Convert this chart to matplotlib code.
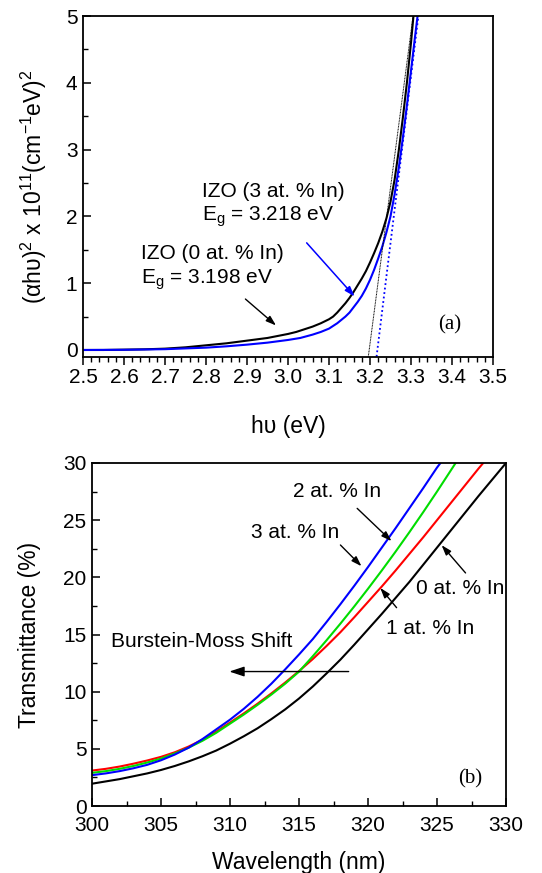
import matplotlib
matplotlib.use("Agg")
import matplotlib.pyplot as plt
from matplotlib.ticker import MultipleLocator

plt.rcParams['font.family'] = ['Liberation Sans', 'DejaVu Sans']
plt.rcParams['mathtext.fontset'] = 'custom'
plt.rcParams['mathtext.rm'] = 'Liberation Sans'
plt.rcParams['mathtext.it'] = 'Liberation Sans:italic'

# ---------------- Panel (a) data ----------------
hv_0 = [2.50, 2.55, 2.60, 2.65, 2.70, 2.75, 2.80, 2.85, 2.90, 2.95, 3.00, 3.02, 3.04, 3.06,
        3.08, 3.10, 3.11, 3.12, 3.13, 3.14, 3.15, 3.16, 3.17, 3.18, 3.19, 3.20, 3.21, 3.22,
        3.23, 3.24, 3.25, 3.26, 3.27, 3.28, 3.29, 3.30, 3.306]
ahv_0 = [0.0, 0.0, 0.005, 0.01, 0.02, 0.04, 0.07, 0.10, 0.14, 0.18, 0.24, 0.27, 0.31, 0.35,
         0.40, 0.46, 0.50, 0.56, 0.63, 0.70, 0.78, 0.87, 0.97, 1.07, 1.18, 1.31, 1.45, 1.60,
         1.77, 1.97, 2.22, 2.55, 2.98, 3.47, 4.00, 4.60, 5.00]
hv_3 = [2.50, 2.60, 2.70, 2.80, 2.85, 2.90, 2.95, 3.00, 3.03, 3.06, 3.08, 3.10, 3.11, 3.12,
        3.13, 3.14, 3.15, 3.16, 3.17, 3.18, 3.19, 3.20, 3.21, 3.22, 3.23, 3.24, 3.25, 3.26,
        3.27, 3.28, 3.29, 3.30, 3.31, 3.316]
ahv_3 = [0.0, 0.003, 0.012, 0.035, 0.055, 0.08, 0.11, 0.15, 0.18, 0.23, 0.27, 0.32, 0.36, 0.40,
         0.45, 0.50, 0.56, 0.64, 0.72, 0.81, 0.92, 1.05, 1.20, 1.37, 1.55, 1.76, 2.00, 2.33,
         2.72, 3.17, 3.66, 4.18, 4.70, 5.00]
eg_0 = 3.198
eg_3 = 3.218
fit_top_0 = 3.305   # hv where the linear fit reaches the top of the axis
fit_top_3 = 3.318

# ---------------- Panel (b) data ----------------
wl_0 = [300, 301, 302, 303, 304, 305, 306, 307, 308, 309, 310, 311, 312, 313, 314, 315,
        316, 317, 318, 319, 320, 321, 322, 323, 324, 325, 326, 327, 328, 329, 330]
T_0 = [1.95, 2.15, 2.35, 2.6, 2.85, 3.15, 3.5, 3.9, 4.35, 4.85, 5.45, 6.1, 6.8, 7.6, 8.45, 9.4,
       10.45, 11.6, 12.8, 14.1, 15.45, 16.8, 18.2, 19.6, 21.1, 22.6, 24.1, 25.6, 27.1, 28.55, 30.0]
wl_1 = [300, 301, 302, 303, 304, 305, 306, 307, 308, 309, 310, 311, 312, 313, 314, 315,
        316, 317, 318, 319, 320, 321, 322, 323, 324, 325, 326, 327, 328, 328.35]
T_1 = [3.1, 3.25, 3.45, 3.7, 3.98, 4.3, 4.7, 5.2, 5.8, 6.5, 7.3, 8.1, 8.95, 9.85, 10.8, 11.8,
       12.85, 14.0, 15.2, 16.5, 17.85, 19.2, 20.6, 22.05, 23.5, 25.0, 26.5, 28.0, 29.5, 30.0]
wl_2 = [300, 301, 302, 303, 304, 305, 306, 307, 308, 309, 310, 311, 312, 313, 314, 315,
        316, 317, 318, 319, 320, 321, 322, 323, 324, 325, 326, 326.35]
T_2 = [2.9, 3.05, 3.25, 3.5, 3.8, 4.15, 4.6, 5.1, 5.7, 6.4, 7.2, 8.0, 8.85, 9.75, 10.7, 11.75,
       13.1, 14.5, 15.95, 17.45, 19.0, 20.6, 22.25, 23.95, 25.7, 27.5, 29.35, 30.0]
wl_3 = [300, 301, 302, 303, 304, 305, 306, 307, 308, 309, 310, 311, 312, 313, 314, 315,
        316, 317, 318, 319, 320, 321, 322, 323, 324, 325, 325.25]
T_3 = [2.7, 2.85, 3.05, 3.3, 3.6, 4.0, 4.5, 5.1, 5.85, 6.7, 7.55, 8.5, 9.55, 10.7, 11.95, 13.25,
       14.6, 16.1, 17.65, 19.25, 20.9, 22.6, 24.3, 26.05, 27.8, 29.6, 30.0]

xticks_a = [2.5, 2.6, 2.7, 2.8, 2.9, 3.0, 3.1, 3.2, 3.3, 3.4, 3.5]
xticklabels_a = ['2.5', '2.6', '2.7', '2.8', '2.9', '3.0', '3.1', '3.2', '3.3', '3.4', '3.5']
yticks_a = [0, 1, 2, 3, 4, 5]
xticks_b = [300, 305, 310, 315, 320, 325, 330]
yticks_b = [0, 5, 10, 15, 20, 25, 30]

fig = plt.figure(figsize=(5.42, 8.73), dpi=100)
W, H = 542, 873

def add_ax(l, r, t, b):
    return fig.add_axes([l / W, (H - b) / H, (r - l) / W, (b - t) / H])

tick_fs = 15
lab_fs = 16.5
txt_fs = 15

# ---------------- Panel (a) ----------------
ax = add_ax(83, 493, 16, 357)
ax.plot(hv_0, ahv_0, color='black', lw=1.5)
ax.plot(hv_3, ahv_3, color='#0000ff', lw=1.5)
ax.plot([eg_0 - 0.1 * (fit_top_0 - eg_0) / 5.0, fit_top_0], [-0.1, 5.0], color='black', lw=0.7, ls=(0, (1, 0.6)))
ax.plot([eg_3 - 0.1 * (fit_top_3 - eg_3) / 5.0, fit_top_3], [-0.1, 5.0], color='#0000ff', lw=1.3, ls=(0, (1, 1.5)))
ax.set_xlim(2.5, 3.5)
ax.set_ylim(-0.105, 5)
ax.set_xticks(xticks_a)
ax.set_xticklabels(xticklabels_a)
ax.set_yticks(yticks_a)
ax.xaxis.set_minor_locator(MultipleLocator(0.02))
ax.yaxis.set_minor_locator(MultipleLocator(0.5))
ax.tick_params(axis='x', which='both', direction='out', top=False, labelsize=tick_fs, pad=2)
ax.tick_params(axis='x', which='major', length=6, width=1.1)
ax.tick_params(axis='x', which='minor', length=3.5, width=1.0)
ax.tick_params(axis='y', which='both', direction='in', right=False, labelsize=tick_fs, pad=4)
ax.tick_params(axis='y', which='major', length=6, width=1.1)
ax.tick_params(axis='y', which='minor', length=3.5, width=1.0)
for s in ax.spines.values():
    s.set_linewidth(1.3)
ax.set_xlabel('hυ (eV)', fontsize=lab_fs, labelpad=20)
ax.set_ylabel('(αhυ)$^2$ x 10$^{11}$(cm$^{-1}$eV)$^2$', fontsize=lab_fs, labelpad=12)

ax.text(2.79, 2.38, 'IZO (3 at. % In)', fontsize=txt_fs, va='center', ha='left')
ax.text(2.79, 1.99, 'E$_\\mathrm{g}$ = 3.218 eV', fontsize=txt_fs, va='center', ha='left')
ax.text(2.642, 1.44, 'IZO (0 at. % In)', fontsize=txt_fs, va='center', ha='left')
ax.text(2.642, 1.05, 'E$_\\mathrm{g}$ = 3.198 eV', fontsize=txt_fs, va='center', ha='left')
ax.annotate('', xy=(3.167, 0.77), xytext=(3.041, 1.635),
            arrowprops=dict(arrowstyle='-|>,head_length=0.6,head_width=0.2', color='#0000ff', lw=1.1))
ax.annotate('', xy=(2.976, 0.34), xytext=(2.891, 0.79),
            arrowprops=dict(arrowstyle='-|>,head_length=0.6,head_width=0.2', color='black', lw=1.0))
ax.text(3.366, 0.37, '(a)', fontsize=15, family='Liberation Serif', va='center', ha='left')

# ---------------- Panel (b) ----------------
bx = add_ax(92, 506, 463, 806)
bx.plot(wl_0, T_0, color='black', lw=1.5)
bx.plot(wl_1, T_1, color='#ff0000', lw=1.5)
bx.plot(wl_2, T_2, color='#00dd00', lw=1.5)
bx.plot(wl_3, T_3, color='#0000ff', lw=1.5)
bx.set_xlim(300, 330)
bx.set_ylim(0, 30)
bx.set_xticks(xticks_b)
bx.set_yticks(yticks_b)
bx.xaxis.set_minor_locator(MultipleLocator(2.5))
bx.yaxis.set_minor_locator(MultipleLocator(2.5))
bx.tick_params(axis='both', which='both', direction='in', top=False, right=False, labelsize=tick_fs)
bx.tick_params(axis='both', which='major', length=6, width=1.1)
bx.tick_params(axis='both', which='minor', length=3.5, width=1.0)
bx.tick_params(axis='x', pad=7)
bx.tick_params(axis='y', pad=4)
for s in bx.spines.values():
    s.set_linewidth(1.3)
bx.set_xlabel('Wavelength (nm)', fontsize=lab_fs, labelpad=12)
bx.set_ylabel('Transmittance (%)', fontsize=lab_fs, labelpad=16)

ap = dict(arrowstyle='-|>,head_length=0.6,head_width=0.2', color='black', lw=1.0)
bx.text(314.6, 27.5, '2 at. % In', fontsize=txt_fs, va='center', ha='left')
bx.annotate('', xy=(321.85, 23.0), xytext=(319.07, 26.2), arrowprops=ap)
bx.text(311.5, 23.9, '3 at. % In', fontsize=txt_fs, va='center', ha='left')
bx.annotate('', xy=(319.67, 20.8), xytext=(317.86, 23.0), arrowprops=ap)
bx.text(323.5, 19.05, '0 at. % In', fontsize=txt_fs, va='center', ha='left')
bx.annotate('', xy=(325.2, 23.0), xytext=(327.2, 20.2), arrowprops=ap)
bx.text(321.3, 15.5, '1 at. % In', fontsize=txt_fs, va='center', ha='left')
bx.annotate('', xy=(320.76, 19.26), xytext=(322.2, 17.16), arrowprops=ap)
bx.text(301.4, 14.4, 'Burstein-Moss Shift', fontsize=txt_fs, va='center', ha='left')
bx.annotate('', xy=(309.75, 11.76), xytext=(318.8, 11.76),
            arrowprops=dict(arrowstyle='-|>,head_length=0.9,head_width=0.3', color='black', lw=1.0))
bx.text(326.5, 2.4, '(b)', fontsize=15, family='Liberation Serif', va='center', ha='left')

fig.savefig('out.png', dpi=100)
